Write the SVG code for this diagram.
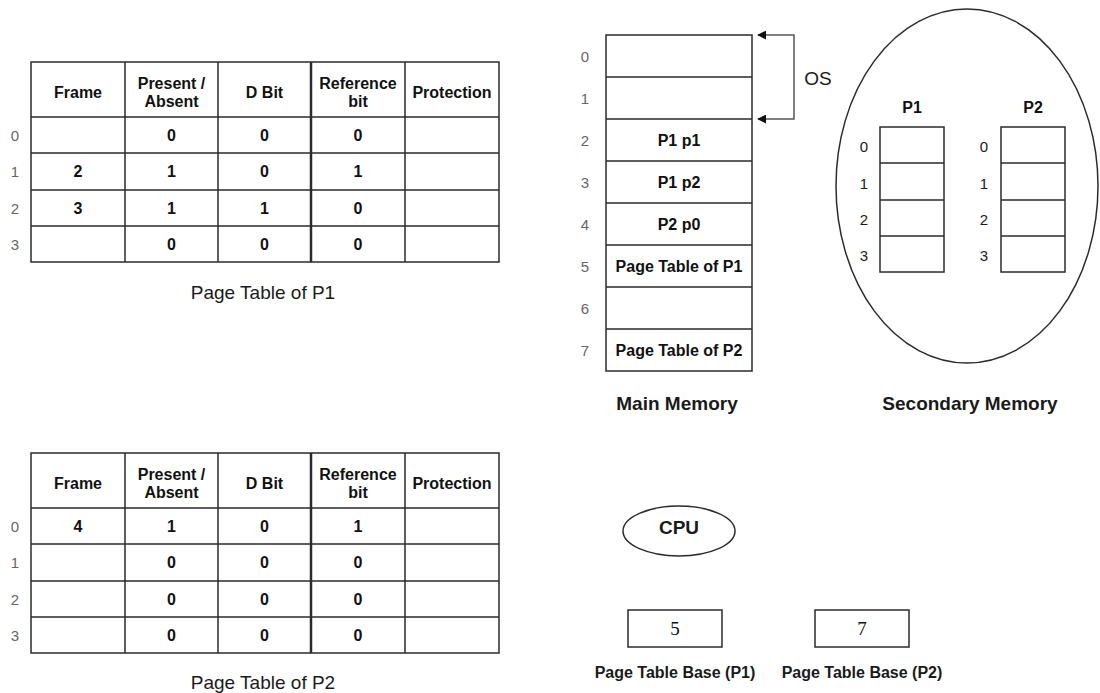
<svg xmlns="http://www.w3.org/2000/svg" width="1100" height="693" viewBox="0 0 1100 693">
<style>
.ln{fill:none;stroke:#2b2b2b;stroke-width:1.5}
.bx{fill:#fff;stroke:#2b2b2b;stroke-width:1.5}
.hd{font-family:"Liberation Sans",Arial,sans-serif;font-size:16px;font-weight:bold;fill:#111;text-anchor:middle}
.cv{font-family:"Liberation Sans",Arial,sans-serif;font-size:16px;font-weight:bold;fill:#111;text-anchor:middle}
.ix{font-family:"Liberation Sans",Arial,sans-serif;font-size:15px;fill:#666;text-anchor:middle}
.ixd{font-family:"Liberation Sans",Arial,sans-serif;font-size:15px;fill:#1a1a1a;text-anchor:middle}
.cap{font-family:"Liberation Sans",Arial,sans-serif;font-size:19px;fill:#1a1a1a;text-anchor:middle}
.capb{font-family:"Liberation Sans",Arial,sans-serif;font-size:19px;font-weight:bold;fill:#1a1a1a;text-anchor:middle}
.lbl{font-family:"Liberation Sans",Arial,sans-serif;font-size:16px;font-weight:bold;fill:#1a1a1a;text-anchor:middle}
.ser{font-family:"Liberation Serif","Times New Roman",serif;font-size:19px;fill:#111;text-anchor:middle}
.con{fill:none;stroke:#555;stroke-width:1.5}
</style>
<defs>
<marker id="ah" viewBox="0 0 10 10" refX="9" refY="5" markerWidth="9" markerHeight="9" markerUnits="userSpaceOnUse" orient="auto-start-reverse">
<path d="M0,0 L10,5 L0,10 z" fill="#111"/>
</marker>
</defs>

<g id="pt1">
<rect class="bx" x="31" y="62" width="468" height="200"/>
<path class="ln" d="M31,117H499M31,153H499M31,190H499M31,226H499M125,62V262M218,62V262M405,62V262"/>
<path class="ln" d="M311,62V262" style="stroke-width:2.5"/>
<text class="hd" x="78" y="97.5">Frame</text>
<text class="hd" x="171.5" y="88.5">Present /</text>
<text class="hd" x="171.5" y="106.5">Absent</text>
<text class="hd" x="264.5" y="97.5">D Bit</text>
<text class="hd" x="358" y="88.5">Reference</text>
<text class="hd" x="358" y="106.5">bit</text>
<text class="hd" x="452" y="97.5">Protection</text>
<text class="ix" x="15" y="141">0</text>
<text class="ix" x="15" y="177">1</text>
<text class="ix" x="15" y="214">2</text>
<text class="ix" x="15" y="250">3</text>
<text class="cv" x="171.5" y="141">0</text><text class="cv" x="264.5" y="141">0</text><text class="cv" x="358" y="141">0</text>
<text class="cv" x="78" y="177">2</text><text class="cv" x="171.5" y="177">1</text><text class="cv" x="264.5" y="177">0</text><text class="cv" x="358" y="177">1</text>
<text class="cv" x="78" y="214">3</text><text class="cv" x="171.5" y="214">1</text><text class="cv" x="264.5" y="214">1</text><text class="cv" x="358" y="214">0</text>
<text class="cv" x="171.5" y="250">0</text><text class="cv" x="264.5" y="250">0</text><text class="cv" x="358" y="250">0</text>
<text class="cap" x="263" y="299">Page Table of P1</text>
</g>

<g id="pt2">
<rect class="bx" x="31" y="453" width="468" height="200"/>
<path class="ln" d="M31,508H499M31,544H499M31,581H499M31,617H499M125,453V653M218,453V653M405,453V653"/>
<path class="ln" d="M311,453V653" style="stroke-width:2.5"/>
<text class="hd" x="78" y="488.5">Frame</text>
<text class="hd" x="171.5" y="479.5">Present /</text>
<text class="hd" x="171.5" y="497.5">Absent</text>
<text class="hd" x="264.5" y="488.5">D Bit</text>
<text class="hd" x="358" y="479.5">Reference</text>
<text class="hd" x="358" y="497.5">bit</text>
<text class="hd" x="452" y="488.5">Protection</text>
<text class="ix" x="15" y="532">0</text>
<text class="ix" x="15" y="568">1</text>
<text class="ix" x="15" y="605">2</text>
<text class="ix" x="15" y="641">3</text>
<text class="cv" x="78" y="532">4</text><text class="cv" x="171.5" y="532">1</text><text class="cv" x="264.5" y="532">0</text><text class="cv" x="358" y="532">1</text>
<text class="cv" x="171.5" y="568">0</text><text class="cv" x="264.5" y="568">0</text><text class="cv" x="358" y="568">0</text>
<text class="cv" x="171.5" y="605">0</text><text class="cv" x="264.5" y="605">0</text><text class="cv" x="358" y="605">0</text>
<text class="cv" x="171.5" y="641">0</text><text class="cv" x="264.5" y="641">0</text><text class="cv" x="358" y="641">0</text>
<text class="cap" x="263" y="689">Page Table of P2</text>
</g>

<g id="main-memory">
<rect class="bx" x="606" y="35" width="146" height="336"/>
<path class="ln" d="M606,77H752M606,119H752M606,161H752M606,203H752M606,245H752M606,287H752M606,329H752"/>
<text class="ix" x="585" y="62">0</text>
<text class="ix" x="585" y="104">1</text>
<text class="ix" x="585" y="146">2</text>
<text class="ix" x="585" y="188">3</text>
<text class="ix" x="585" y="230">4</text>
<text class="ix" x="585" y="272">5</text>
<text class="ix" x="585" y="314">6</text>
<text class="ix" x="585" y="356">7</text>
<text class="cv" x="679" y="146">P1 p1</text>
<text class="cv" x="679" y="188">P1 p2</text>
<text class="cv" x="679" y="230">P2 p0</text>
<text class="cv" x="679" y="272">Page Table of P1</text>
<text class="cv" x="679" y="356">Page Table of P2</text>
<text class="capb" x="677" y="410">Main Memory</text>
</g>

<g id="os-label">
<text class="cap" x="818" y="85">OS</text>
</g>

<g id="secondary-memory">
<ellipse class="ln" cx="967" cy="186" rx="131" ry="177"/>
<text class="hd" x="912" y="113">P1</text>
<text class="hd" x="1033" y="113">P2</text>
<rect class="bx" x="880" y="127" width="64" height="145"/>
<path class="ln" d="M880,163H944M880,200H944M880,236H944"/>
<rect class="bx" x="1001" y="127" width="64" height="145"/>
<path class="ln" d="M1001,163H1065M1001,200H1065M1001,236H1065"/>
<text class="ixd" x="864" y="152">0</text>
<text class="ixd" x="864" y="189">1</text>
<text class="ixd" x="864" y="225">2</text>
<text class="ixd" x="864" y="261">3</text>
<text class="ixd" x="984" y="152">0</text>
<text class="ixd" x="984" y="189">1</text>
<text class="ixd" x="984" y="225">2</text>
<text class="ixd" x="984" y="261">3</text>
<text class="capb" x="970" y="410">Secondary Memory</text>
</g>

<g id="cpu">
<ellipse class="ln" cx="679" cy="531" rx="56" ry="25"/>
<text class="capb" x="679" y="534">CPU</text>
</g>

<g id="ptbr1">
<rect class="bx" x="628" y="610" width="94" height="37"/>
<text class="ser" x="675" y="635">5</text>
<text class="lbl" x="675" y="678">Page Table Base (P1)</text>
</g>

<g id="ptbr2">
<rect class="bx" x="815" y="610" width="94" height="37"/>
<text class="ser" x="862" y="635">7</text>
<text class="lbl" x="862" y="678">Page Table Base (P2)</text>
</g>

<g id="connectors">
<path class="con" d="M758,35H794V119H758" marker-start="url(#ah)" marker-end="url(#ah)"/>
</g>
</svg>
